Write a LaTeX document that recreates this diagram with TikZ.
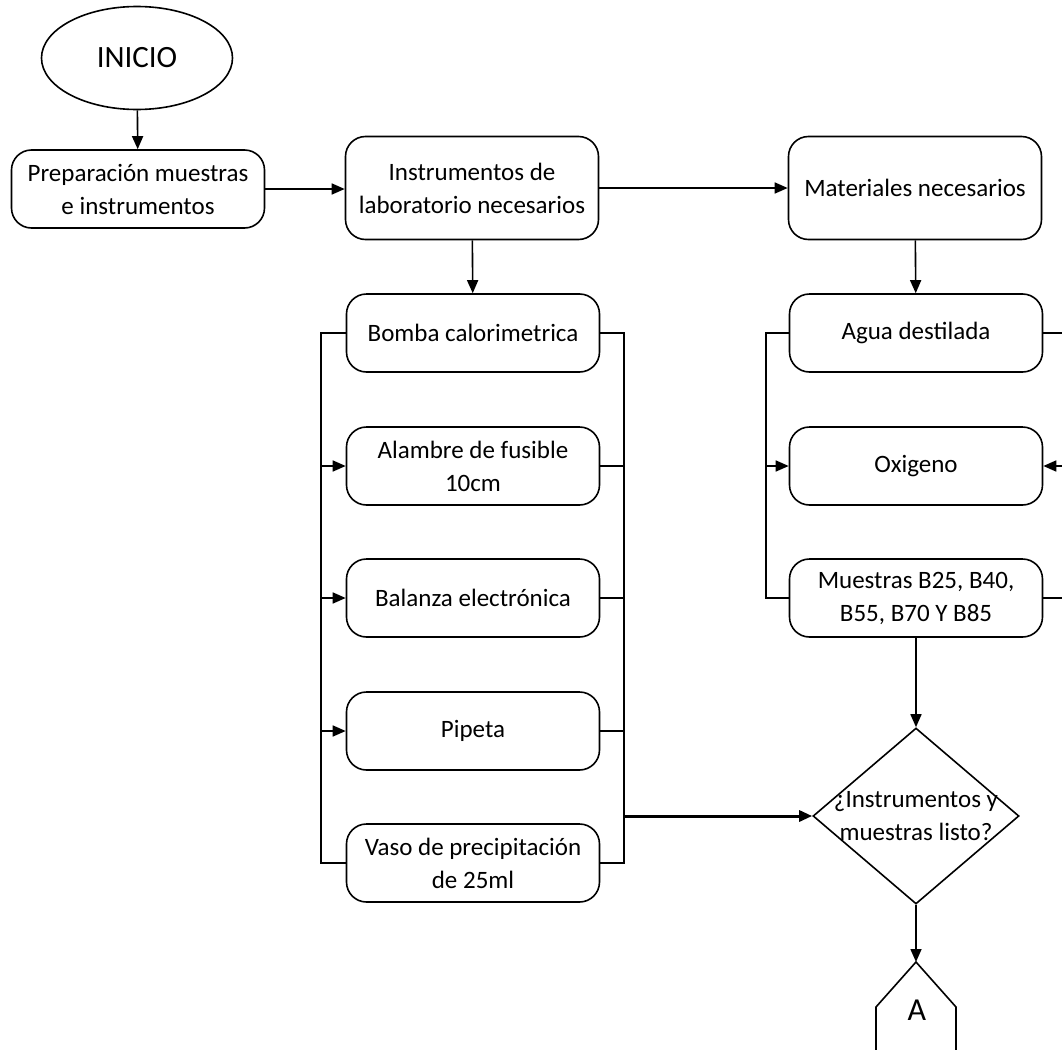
\documentclass[tikz,border=0pt]{standalone}
\usepackage{fontspec}
\setmainfont{Carlito}
\usepackage{tikz}
\usetikzlibrary{shapes.geometric, arrows.meta, positioning, calc}

\begin{document}
\begin{tikzpicture}[x=0.5pt,y=-0.5pt,line width=0.8pt,
  every node/.append style={font=\fontsize{12.5}{16.5}\selectfont},
  proc/.style={draw,rounded corners=10pt,minimum width=126.5pt,minimum height=39pt,align=center,inner sep=2pt},
  bigproc/.style={proc,minimum height=51.5pt},
  term/.style={draw,ellipse,minimum width=95.5pt,minimum height=51.5pt,inner sep=0pt,font=\fontsize{15.5}{19}\selectfont},
  decide/.style={draw,diamond,minimum width=103pt,minimum height=88pt,inner sep=0pt},
  flow/.style={-{Triangle[length=6.5pt,width=5.5pt]}}]
\useasboundingbox (0,0) rectangle (1062,1050);
% top row
\node[term] (inicio) at (137,58) {INICIO};
\node[proc] (prep) at (138,189) {Preparación muestras\\e instrumentos};
\node[bigproc] (instr) at (472,188) {Instrumentos de\\laboratorio necesarios};
\node[bigproc] (mat) at (915,188) {Materiales necesarios};
% instrumentos
\node[proc] (bomba) at (473,333) {Bomba calorimetrica};
\node[proc] (alambre) at (473,466) {Alambre de fusible\\10cm};
\node[proc] (balanza) at (473,598) {Balanza electrónica};
\node[proc] (pipeta) at (473,731) {Pipeta};
\node[proc] (vaso) at (473,863) {Vaso de precipitación\\de 25ml};
% materiales
\node[proc] (agua) at (916,333) {Agua destilada};
\node[proc] (oxig) at (916,466) {Oxigeno};
\node[proc] (muest) at (916,598) {Muestras B25, B40,\\B55, B70 Y B85};
% decision and off-page connector
\node[decide,label={[align=center,font=\fontsize{12.5}{16.5}\selectfont]center:¿Instrumentos y\\muestras listo?}] (dec) at (916,816) {};
\coordinate (conA) at (916,962);
\draw (876,1050) -- (876,1007) -- (conA) -- (956,1007) -- (956,1050);
\node[font=\fontsize{16}{19}\selectfont] (letA) at (917,1010) {A};
% bus coordinates
\coordinate (lb1) at (321,333);
\coordinate (lb2) at (321,863);
\coordinate (rb1) at (624,333);
\coordinate (rb2) at (624,863);
\coordinate (mb1) at (766,333);
\coordinate (mb2) at (766,598);
\coordinate (edge) at (1062,0);
% main flow
\draw[flow] (inicio) -- (prep);
\draw[flow] (prep.east) -- (prep.east -| instr.west);
\draw[flow] (instr) -- (mat);
\draw[flow] (instr) -- (bomba);
\draw[flow] (mat) -- (agua);
% left column buses
\draw (bomba.west) -- (lb1) -- (lb2) -- (vaso.west);
\draw (bomba.east) -- (rb1) -- (rb2) -- (vaso.east);
\foreach \n in {alambre,balanza,pipeta} {
  \draw[flow] (lb1 |- \n.west) -- (\n.west);
  \draw (\n.east) -- (rb1 |- \n.east);
}
\draw[flow,line width=1.5pt] (rb1 |- dec.west) -- (dec.west);
% right column buses
\draw (agua.west) -- (mb1) -- (mb2) -- (muest.west);
\draw[flow] (mb1 |- oxig.west) -- (oxig.west);
\draw (agua.east) -- (agua.east -| edge);
\draw (muest.east) -- (muest.east -| edge);
\draw[flow] (oxig.east -| edge) -- (oxig.east);
\draw[flow] (muest) -- (dec);
\draw[flow] (dec) -- (conA);
\end{tikzpicture}
\end{document}
